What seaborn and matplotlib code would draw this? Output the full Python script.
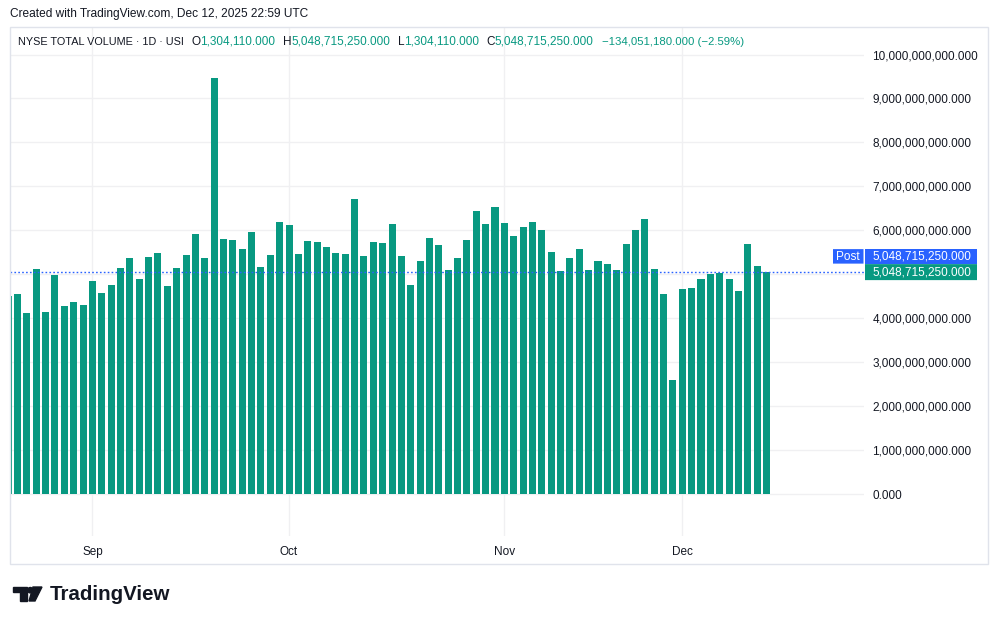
import numpy as np
import pandas as pd
import matplotlib
matplotlib.use("Agg")
import matplotlib.pyplot as plt
import matplotlib.patches as mpatches
from matplotlib.transforms import blended_transform_factory
from matplotlib.ticker import FuncFormatter
import seaborn as sns

# NYSE total volume, daily bars (values in billions)
holidays = ["2025-09-01", "2025-11-27"]
dates = [d for d in pd.bdate_range("2025-08-19", "2025-12-12") if d.strftime("%Y-%m-%d") not in holidays]
volume_bn = [
    4.50, 4.55, 4.12, 5.12, 4.14, 4.98, 4.28, 4.37, 4.30,
    4.85, 4.57, 4.75, 5.14, 5.37, 4.89, 5.39, 5.48, 4.73, 5.14, 5.44,
    5.92, 5.37, 9.47, 5.80, 5.78, 5.57, 5.96, 5.16, 5.44, 6.19,
    6.12, 5.46, 5.76, 5.73, 5.62, 5.48, 5.46, 6.71, 5.42, 5.73,
    5.71, 6.14, 5.42, 4.76, 5.30, 5.82, 5.67, 5.10, 5.37, 5.78,
    6.44, 6.14, 6.53, 6.17, 5.87, 6.08, 6.19, 6.01, 5.51, 5.08,
    5.37, 5.57, 5.10, 5.30, 5.23, 5.10, 5.69, 6.01, 6.26, 5.12,
    4.55, 2.59, 4.66, 4.69, 4.89, 5.01, 5.03, 4.89, 4.62, 5.69,
    5.19, 5.048715250,
]
y_ticks_bn = [0, 1, 2, 3, 4, 5, 6, 7, 8, 9, 10]
last_value = 5048715250.0

df = pd.DataFrame({"date": [d.strftime("%Y-%m-%d") for d in dates],
                   "volume": np.array(volume_bn) * 1e9})

GREEN = "#089981"
BLUE = "#2962ff"
TEXT = "#131722"
GRID = "#f0f0f2"
W, H = 998, 624
FS = 8.5

sns.set_style("white")
plt.rcParams["font.family"] = ["Liberation Sans", "DejaVu Sans"]

fig = plt.figure(figsize=(W / 100, H / 100), dpi=100)
ax = fig.add_axes([10 / W, (H - 536) / H, 854 / W, (536 - 27) / H])

sns.barplot(data=df, x="date", y="volume", color=GREEN, saturation=1,
            width=0.75, linewidth=0, ax=ax, zorder=2)

# month ticks at the first trading day of each month
months = pd.to_datetime(df["date"])
tick_idx = [i for i in range(1, len(months)) if months[i].month != months[i - 1].month]
ax.set_xticks(tick_idx)
ax.set_xticklabels([months[i].strftime("%b") for i in tick_idx])
ax.set_xlim(0.199, 91.41)

# the 5,000,000,000 label sits under the last-value labels in the original
ax.set_ylim(-0.9556e9, 10.626e9)
ax.set_yticks([v * 1e9 for v in y_ticks_bn])
ax.yaxis.set_major_formatter(FuncFormatter(lambda v, p: "" if abs(v - 5e9) < 1 else f"{v:,.3f}"))
ax.yaxis.tick_right()
ax.tick_params(axis="y", length=0, pad=6, labelsize=FS, labelcolor=TEXT)
ax.tick_params(axis="x", length=0, pad=7, labelsize=FS, labelcolor=TEXT)
for lbl in ax.get_yticklabels():
    lbl.set_horizontalalignment("left")
ax.set_xlabel("")
ax.set_ylabel("")
ax.grid(True, color=GRID, linewidth=1, zorder=0)
ax.set_axisbelow(True)
for s in ax.spines.values():
    s.set_visible(False)

# last value line and labels
ax.axhline(last_value, color=BLUE, linewidth=1.0, linestyle=(0, (1.2, 1.6)), zorder=3)
bt = blended_transform_factory(fig.transFigure, ax.transData)
px = 1e9 / 43.95
green_box = mpatches.FancyBboxPatch((865 / W, last_value - 8 * px), 112 / W, 16 * px,
                                    boxstyle="round,pad=0,rounding_size=0.002",
                                    facecolor=GREEN, edgecolor="none", transform=bt,
                                    clip_on=False, zorder=5)
blue_box = mpatches.Rectangle((865 / W, last_value + 8 * px), 112 / W, 15 * px,
                              facecolor=BLUE, edgecolor="none", transform=bt,
                              clip_on=False, zorder=5)
post_box = mpatches.FancyBboxPatch((833 / W, last_value + 8.5 * px), 30.5 / W, 14.5 * px,
                                   boxstyle="round,pad=0,rounding_size=0.002",
                                   facecolor=BLUE, edgecolor="none", transform=bt,
                                   clip_on=False, zorder=5)
for p in (green_box, blue_box, post_box):
    ax.add_patch(p)
label = f"{last_value:,.3f}"
ax.text(872.5 / W, last_value, label, transform=bt, color="white", fontsize=FS,
        va="center", ha="left", zorder=6)
ax.text(872.5 / W, last_value + 15.5 * px, label, transform=bt, color="white", fontsize=FS,
        va="center", ha="left", zorder=6)
ax.text(848 / W, last_value + 15.5 * px, "Post", transform=bt, color="white", fontsize=FS,
        va="center", ha="center", zorder=6)

# pane border
fig.patches.append(mpatches.Rectangle((10 / W, (H - 564) / H), 978 / W, 537 / H,
                                      fill=False, edgecolor="#e0e3eb", linewidth=1,
                                      transform=fig.transFigure))

# header texts
fig.text(10 / W, 1 - 14 / H, "Created with TradingView.com, Dec 12, 2025 22:59 UTC",
         color=TEXT, fontsize=8.6, va="center", ha="left")

renderer = fig.canvas.get_renderer()
pieces = [("NYSE TOTAL VOLUME · 1D · USI", TEXT, 0, 7.8), ("O", TEXT, 7.5, FS),
          ("1,304,110.000", GREEN, 0, FS), ("H", TEXT, 8, FS), ("5,048,715,250.000", GREEN, 0, FS),
          ("L", TEXT, 7, FS), ("1,304,110.000", GREEN, 0, FS), ("C", TEXT, 7, FS),
          ("5,048,715,250.000", GREEN, 0, FS), ("\u2212134,051,180.000 (\u22122.59%)", GREEN, 8, 8.2)]
x = 18
for s, c, gap, size in pieces:
    x += gap
    t = fig.text(x / W, 1 - 42 / H, s, color=c, fontsize=size, va="center", ha="left")
    x += t.get_window_extent(renderer).width

# TradingView logo
shapes = [
    [(12.7, 587), (27, 587), (27, 601), (20, 601), (20, 592), (12.7, 592)],
    [(33, 587), (42, 587), (35, 601), (29, 601)],
]
for pts in shapes:
    fig.patches.append(mpatches.Polygon([(a / W, 1 - b / H) for a, b in pts], closed=True,
                                        color=TEXT, transform=fig.transFigure))
fig.patches.append(mpatches.Ellipse((30.3 / W, 1 - 590.2 / H), 5.4 / W, 5.4 / H, color=TEXT,
                                    transform=fig.transFigure))
fig.text(50 / W, 1 - 594 / H, "TradingView", color=TEXT, fontsize=14.8,
         fontweight="bold", va="center", ha="left")

fig.savefig("out.png", dpi=100, facecolor="white")
